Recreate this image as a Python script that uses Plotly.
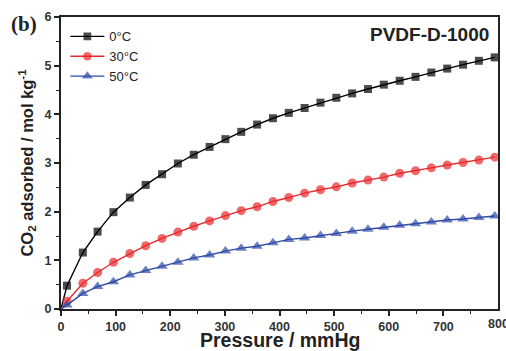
import plotly.graph_objects as go

pressure = [0, 11, 40, 67, 96, 126, 155, 185, 214, 243, 272, 301, 330, 359, 388, 417, 446,
            475, 504, 533, 562, 591, 620, 649, 678, 707, 736, 765, 794]
co2_0C = [0, 0.48, 1.16, 1.59, 1.99, 2.29, 2.55, 2.77, 2.99, 3.17, 3.33, 3.49, 3.64, 3.79,
          3.92, 4.03, 4.13, 4.24, 4.34, 4.43, 4.52, 4.61, 4.69, 4.77, 4.86, 4.94, 5.02, 5.10, 5.17]
co2_30C = [0, 0.16, 0.53, 0.75, 0.96, 1.14, 1.30, 1.45, 1.58, 1.70, 1.81, 1.92, 2.02, 2.10,
           2.21, 2.29, 2.38, 2.45, 2.51, 2.59, 2.65, 2.71, 2.79, 2.84, 2.90, 2.96, 3.01, 3.06, 3.12]
co2_50C = [0, 0.08, 0.32, 0.46, 0.56, 0.70, 0.79, 0.88, 0.96, 1.05, 1.11, 1.19, 1.25, 1.29,
           1.36, 1.43, 1.46, 1.51, 1.55, 1.60, 1.64, 1.68, 1.72, 1.75, 1.79, 1.83, 1.85, 1.88, 1.91]
series_names = ["0°C", "30°C", "50°C"]
x_ticks = [0, 100, 200, 300, 400, 500, 600, 700, 800]
y_ticks = [0, 1, 2, 3, 4, 5, 6]

colors = ["#000000", "#e8282b", "#2e4aa6"]
symbols = ["square", "circle", "triangle-up"]
sizes = [8, 9, 10]

fig = go.Figure()
for name, ys, c, s, sz in zip(series_names, [co2_0C, co2_30C, co2_50C], colors, symbols, sizes):
    msz = [0] + [sz] * (len(pressure) - 1)
    fig.add_trace(go.Scatter(
        x=pressure, y=ys, name=name, mode="lines+markers",
        line=dict(color=c, width=1.4),
        marker=dict(color=c, symbol=s, size=msz, line=dict(width=0)),
    ))

font_main = "Liberation Sans, Arial, sans-serif"
fig.update_layout(
    width=506, height=351,
    margin=dict(l=61, r=8, t=17, b=42, autoexpand=False),
    paper_bgcolor="white", plot_bgcolor="white",
    font=dict(family=font_main, color="#222"),
    showlegend=True,
    legend=dict(x=0.01, y=0.985, xanchor="left", yanchor="top",
                bgcolor="rgba(0,0,0,0)", font=dict(size=13, family=font_main, color="#222"),
                tracegroupgap=0, itemwidth=34),
    xaxis=dict(range=[0, 800], tickmode="array", tickvals=x_ticks[:-1],
               ticks="outside", ticklen=5, tickwidth=1.5, tickcolor="#222",
               minor=dict(tickvals=[50, 150, 250, 350, 450, 550, 650, 750], ticks="outside",
                          ticklen=3, tickwidth=1.2, tickcolor="#222"),
               showline=True, linewidth=2, linecolor="#222", mirror=True,
               showgrid=False, zeroline=False, automargin=False,
               tickfont=dict(size=12.5, family=font_main, color="#333", weight="bold")),
    yaxis=dict(range=[0, 6], tickmode="array", tickvals=y_ticks,
               ticks="outside", ticklen=5, tickwidth=1.5, tickcolor="#222",
               minor=dict(tickvals=[0.5, 1.5, 2.5, 3.5, 4.5, 5.5], ticks="outside", ticklen=3, tickwidth=1.2, tickcolor="#222"),
               showline=True, linewidth=2, linecolor="#222", mirror=True,
               showgrid=False, zeroline=False, automargin=False,
               tickfont=dict(size=12.5, family=font_main, color="#333", weight="bold"),
               title=dict(text="<b>CO<sub>2</sub> adsorbed / mol kg<sup>-1</sup></b>",
                          font=dict(size=16.5, family=font_main, color="#222"), standoff=7)),
)

# x-axis title placed explicitly
fig.add_annotation(text="<b>Pressure / mmHg</b>", xref="paper", yref="paper", x=0.5, y=0,
                   xanchor="center", yanchor="top", yshift=-19, borderpad=0, showarrow=False,
                   font=dict(size=19.5, family=font_main, color="#222"))
# last x tick label (sits on the right edge, partly cut like the reference)
fig.add_annotation(text="<b>%d</b>" % x_ticks[-1], xref="x", yref="paper", x=x_ticks[-1], y=0,
                   xanchor="center", yanchor="top", yshift=-6, showarrow=False,
                   font=dict(size=12.5, family=font_main, color="#333"))
fig.add_annotation(text="<b>(b)</b>", xref="paper", yref="paper", x=-0.084, y=0.975,
                   xanchor="center", yanchor="middle", showarrow=False,
                   font=dict(size=21, family="Liberation Serif, Times New Roman, serif", color="#222"))
fig.add_annotation(text="<b>PVDF-D-1000</b>", xref="paper", yref="paper", x=0.985, y=0.94,
                   xanchor="right", yanchor="middle", showarrow=False,
                   font=dict(size=19, family=font_main, color="#222"))

fig.write_html("out.html", config={"displayModeBar": False},
               post_script="document.body.style.margin='0';document.body.style.overflow='hidden';")
